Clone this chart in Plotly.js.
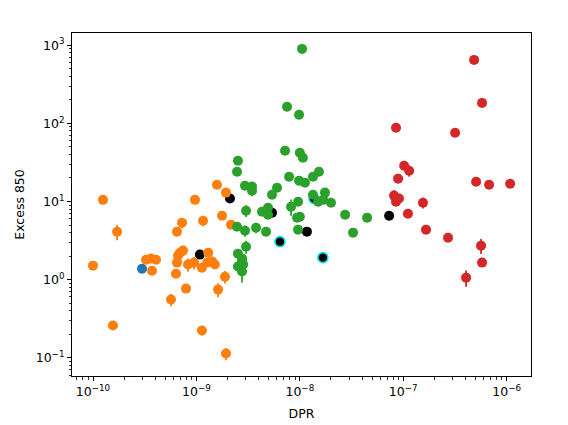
<!DOCTYPE html>
<html>
<head>
<meta charset="utf-8">
<script src="https://cdn.plot.ly/plotly-3.0.1.min.js"></script>
<style>html,body{margin:0;padding:0;background:#fff}#plot{width:568px;height:425px}</style>
</head>
<body>
<div id="plot"></div>
<script>
// ---- data ----
const blueX = [2.98e-10];
const blueY = [1.38];
const blueErr = [0];

const orangeX = [1.00e-10, 1.25e-10, 1.71e-10, 1.56e-10, 3.26e-10, 3.64e-10, 4.07e-10, 3.72e-10,
  5.68e-10, 6.35e-10, 6.49e-10, 6.64e-10, 6.94e-10, 7.41e-10, 6.49e-10, 7.26e-10, 7.93e-10,
  8.30e-10, 9.48e-10, 9.69e-10, 1.13e-9, 1.27e-9, 1.30e-9, 1.42e-9, 1.51e-9, 1.13e-9, 1.16e-9,
  1.58e-9, 1.77e-9, 1.93e-9, 2.16e-9, 1.89e-9, 1.62e-9, 1.93e-9];
const orangeY = [1.51, 10.5, 4.1, 0.258, 1.80, 1.86, 1.80, 1.30,
  0.555, 1.19, 1.65, 2.03, 2.21, 2.35, 4.11, 5.36, 0.767,
  1.56, 1.65, 10.5, 1.42, 1.65, 2.21, 1.70, 1.56, 0.223, 5.68,
  16.4, 6.58, 13.0, 5.05, 1.09, 0.745, 0.113];
const orangeErr = [0, 0, 0.9, 0, 0, 0, 0, 0,
  0.1, 0, 0, 0, 0, 0, 0, 0.8, 0,
  0.3, 0.3, 0, 0, 0, 0, 0, 0, 0.03, 0.9,
  0, 0, 0, 0, 0.2, 0.15, 0.02];

const greenX = [1.05e-8, 7.52e-9, 9.82e-9, 7.19e-9, 1.00e-8, 1.07e-8, 2.52e-9, 2.47e-9, 7.87e-9,
  9.82e-9, 1.12e-8, 1.34e-8, 1.53e-8, 2.95e-9, 3.45e-9, 3.45e-9, 6.02e-9, 5.38e-9, 1.34e-8,
  1.75e-8, 1.68e-8, 2.00e-8, 1.50e-8, 9.61e-9, 8.22e-9, 3.02e-9, 4.31e-9, 4.92e-9, 4.92e-9,
  1.00e-8, 9.40e-9, 2.74e-8, 4.47e-8, 2.47e-9, 2.95e-9, 3.77e-9, 4.71e-9, 9.61e-9, 3.27e-8,
  2.52e-9, 3.02e-9, 2.76e-9, 2.52e-9, 2.83e-9, 2.76e-9, 2.76e-9];
const greenY = [899, 163, 129, 44.7, 42.1, 36.3, 33.3, 24.0, 20.7,
  18.4, 17.4, 20.7, 24.0, 15.9, 15.5, 13.7, 15.0, 12.2, 12.2,
  13.0, 10.5, 9.66, 9.94, 9.94, 8.58, 7.63, 7.41, 8.33, 6.78,
  6.39, 6.21, 6.78, 6.21, 4.76, 4.23, 4.62, 4.11, 4.36, 3.99,
  2.15, 2.64, 1.70, 1.47, 1.56, 1.27, 1.86];
const greenErr = [0, 0, 0, 0, 0, 0, 0, 0, 0,
  0, 0, 0, 0, 0, 0, 2, 0, 0, 0,
  0, 0, 0, 0, 0, 2, 1.3, 0, 0, 0,
  0, 0, 0, 0, 0, 0.7, 0.7, 0, 0, 0,
  0, 0.5, 0, 0, 0, 0.35, 0];

const redX = [4.84e-7, 5.78e-7, 8.51e-8, 3.17e-7, 1.02e-7, 1.14e-7, 8.91e-8, 5.06e-7, 6.76e-7,
  1.08e-6, 8.15e-8, 8.51e-8, 9.09e-8, 1.55e-7, 1.11e-7, 1.66e-7, 2.71e-7, 5.65e-7, 5.78e-7, 4.05e-7];
const redY = [650, 183, 87.8, 75.8, 28.7, 24.8, 19.6, 17.9, 16.4,
  16.9, 11.9, 9.94, 10.9, 9.66, 6.98, 4.36, 3.44, 2.72, 1.65, 1.06];
const redErr = [0, 0, 0, 0, 0, 4, 0, 0, 0,
  0, 2, 0, 0, 1.5, 0, 0, 0, 0.6, 0, 0.25];

const blackX = [2.11e-9, 1.08e-9, 5.38e-9, 1.17e-8, 7.30e-8];
const blackY = [10.9, 2.09, 7.19, 4.11, 6.58];

const cyanX = [6.42e-9, 1.67e-8, 1.37e-8];
const cyanY = [3.06, 1.91, 10.9];

const xTickVals = [1e-10, 1e-9, 1e-8, 1e-7, 1e-6];
const xTickText = ['10<sup>−10</sup>', '10<sup>−9</sup>', '10<sup>−8</sup>', '10<sup>−7</sup>', '10<sup>−6</sup>'];
const yTickVals = [0.1, 1, 10, 100, 1000];
const yTickText = ['10<sup>−1</sup>', '10<sup>0</sup>', '10<sup>1</sup>', '10<sup>2</sup>', '10<sup>3</sup>'];

// minor tick positions (2..9 × each decade) for the log axes
function minorTicks(lo, hi) {
  const out = [];
  for (let e = lo; e <= hi; e++) for (let m = 2; m <= 9; m++) out.push(m * Math.pow(10, e));
  return out;
}

// ---- traces ----
function pts(x, y, err, color, extra) {
  const t = {
    type: 'scatter', mode: 'markers', x: x, y: y,
    marker: Object.assign({color: color, size: 10}, extra || {}),
    hoverinfo: 'x+y', showlegend: false
  };
  if (err) t.error_y = {type: 'data', array: err, visible: true, color: color, thickness: 1.8, width: 0};
  return t;
}
const traces = [
  pts(blackX, blackY, null, '#000000'),
  pts(cyanX, cyanY, null, '#000000', {size: 10, line: {color: '#00e5ee', width: 1.6}}),
  pts(blueX, blueY, blueErr, '#1f77b4'),
  pts(orangeX, orangeY, orangeErr, '#ff7f0e'),
  pts(greenX, greenY, greenErr, '#2ca02c'),
  pts(redX, redY, redErr, '#d62728')
];

const axisCommon = {
  type: 'log', showgrid: false, zeroline: false,
  showline: true, mirror: true, linecolor: '#000', linewidth: 1,
  ticks: 'outside', ticklen: 4, tickwidth: 1, tickcolor: '#000',
  tickmode: 'array',
  tickfont: {family: 'DejaVu Sans', size: 12.5, color: '#000'},
  automargin: false
};

const layout = {
  width: 568, height: 425,
  margin: {l: 72, r: 37, t: 33, b: 49},
  paper_bgcolor: '#fff', plot_bgcolor: '#fff',
  font: {family: 'DejaVu Sans', size: 12, color: '#000'},
  xaxis: Object.assign({}, axisCommon, {
    range: [-10.203, -5.765], tickvals: xTickVals, ticktext: xTickText,
    minor: {tickmode: 'array', tickvals: minorTicks(-11, -6), ticks: 'outside', ticklen: 2.5, tickwidth: 0.8, tickcolor: '#000', showgrid: false},
    title: {text: 'DPR', font: {family: 'DejaVu Sans', size: 12.5, color: '#000'}, standoff: 11}
  }),
  yaxis: Object.assign({}, axisCommon, {
    range: [-1.234, 3.157], tickvals: yTickVals, ticktext: yTickText,
    minor: {tickmode: 'array', tickvals: minorTicks(-2, 3), ticks: 'outside', ticklen: 2.5, tickwidth: 0.8, tickcolor: '#000', showgrid: false},
    title: {text: 'Excess 850', font: {family: 'DejaVu Sans', size: 12.5, color: '#000'}, standoff: 8}
  }),
  showlegend: false
};

Plotly.newPlot('plot', traces, layout, {displayModeBar: false, staticPlot: true});
</script>
</body>
</html>
